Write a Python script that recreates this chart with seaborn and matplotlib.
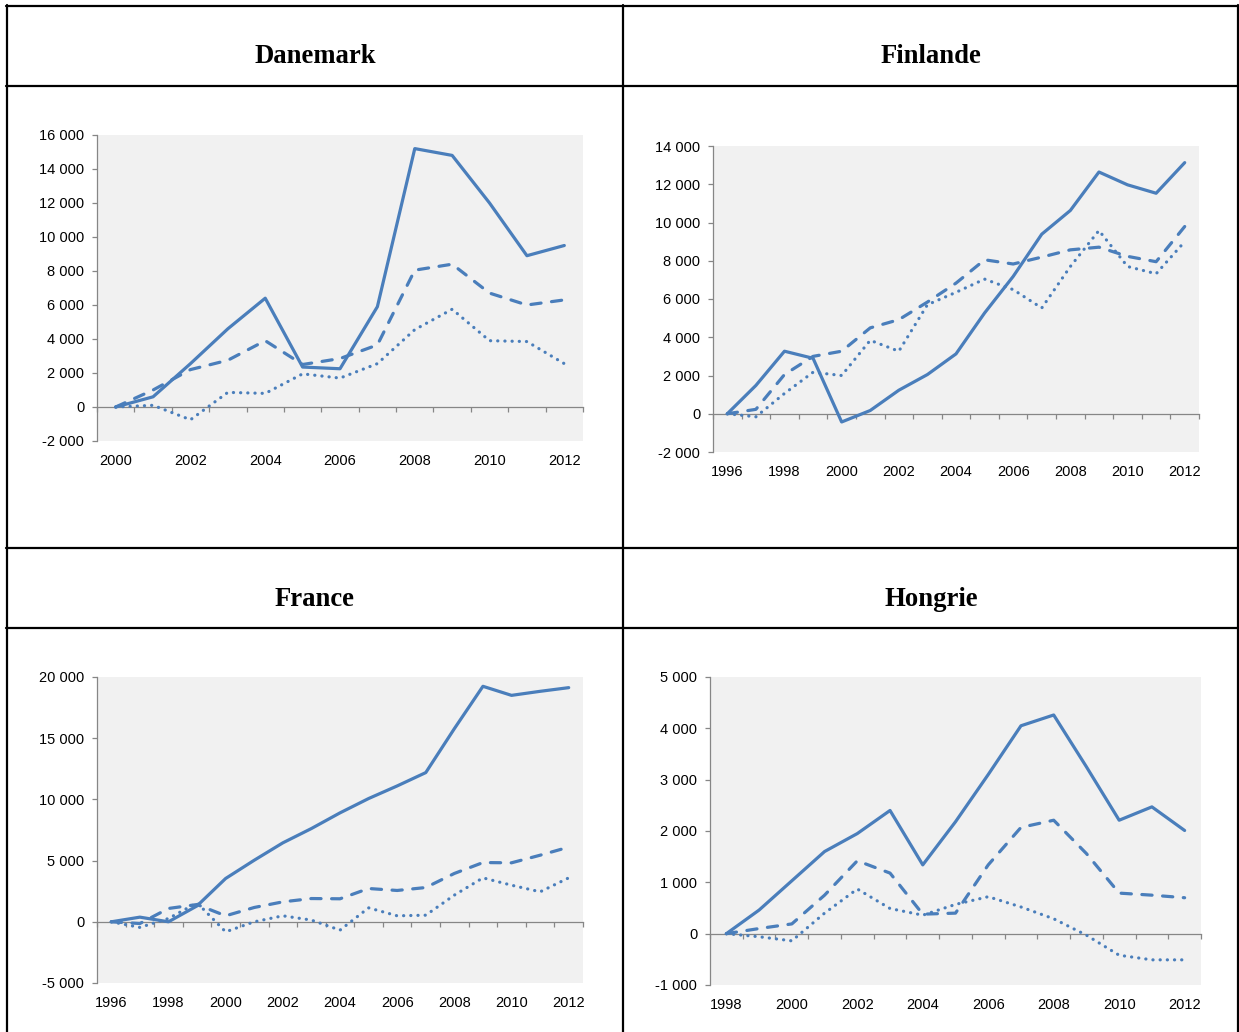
import matplotlib
matplotlib.use("Agg")
import matplotlib.pyplot as plt
from matplotlib.lines import Line2D
from matplotlib.ticker import FuncFormatter, FixedLocator
import seaborn as sns
import pandas as pd

# ---------------- data ----------------
titles = ["Danemark", "Finlande", "France", "Hongrie"]
series_names = ["Série 1", "Série 2", "Série 3"]

dk_years = list(range(2000, 2013))
dk_solid = [0, 600, 2550, 4600, 6400, 2350, 2250, 5900, 15200, 14800, 12000, 8900, 9500]
dk_dash = [0, 1000, 2200, 2750, 3900, 2500, 2850, 3650, 8050, 8400, 6700, 6000, 6300]
dk_dot = [0, 100, -750, 860, 800, 1950, 1700, 2550, 4550, 5750, 3900, 3850, 2550]

fi_years = list(range(1996, 2013))
fi_solid = [0, 1480, 3270, 2900, -430, 170, 1230, 2050, 3130, 5270, 7180, 9390, 10630, 12640, 11970, 11530, 13130]
fi_dash = [0, 230, 2050, 3000, 3270, 4490, 4920, 5840, 6830, 8050, 7830, 8190, 8570, 8710, 8230, 7950, 9790]
fi_dot = [0, -160, 1060, 2170, 2000, 3840, 3270, 5700, 6350, 7040, 6490, 5530, 7700, 9580, 7700, 7320, 9000]

fr_years = list(range(1996, 2013))
fr_solid = [0, 380, 0, 1300, 3540, 5030, 6450, 7620, 8900, 10070, 11100, 12190, 15780, 19240, 18500, 18830, 19130]
fr_dash = [0, -140, 1090, 1410, 490, 1170, 1630, 1900, 1880, 2720, 2560, 2800, 3950, 4840, 4820, 5440, 6100]
fr_dot = [0, -460, 270, 1550, -820, 0, 490, 140, -680, 1140, 490, 540, 2180, 3590, 2990, 2450, 3590]

hu_years = list(range(1998, 2013))
hu_solid = [0, 460, 1030, 1600, 1950, 2400, 1340, 2180, 3100, 4050, 4260, 3250, 2210, 2470, 2010]
hu_dash = [0, 100, 190, 750, 1420, 1180, 380, 400, 1340, 2070, 2210, 1560, 790, 750, 700]
hu_dot = [0, -60, -140, 400, 870, 490, 360, 570, 720, 520, 290, -30, -420, -510, -510]

dk_yticks = list(range(-2000, 16001, 2000))
fi_yticks = list(range(-2000, 14001, 2000))
fr_yticks = list(range(-5000, 20001, 5000))
hu_yticks = list(range(-1000, 5001, 1000))

# ---------------- style ----------------
sns.set_theme(style="white")
plt.rcParams['font.family'] = ['Liberation Sans', 'DejaVu Sans']

W, H = 1239, 1032
fig = plt.figure(figsize=(W / 100, H / 100), dpi=100)
fig.patch.set_facecolor("white")

LINE_COLOR = "#4A7EBB"
AXIS_COLOR = "#868686"
BG = "#F1F1F1"
TICK_FS = 10.5

dash_map = {series_names[0]: "", series_names[1]: (3.2, 3.3), series_names[2]: (0.05, 2.2)}


def fmt(v, pos):
    s = f"{abs(int(round(v))):,}".replace(",", " ")
    return ("-" if v < 0 else "") + s


def make_panel(box, years, solid, dash, dot, yticks):
    l, t, r, b = box
    ax = fig.add_axes([l / W, 1 - b / H, (r - l) / W, (b - t) / H])
    df = pd.DataFrame({
        "year": years * 3,
        "value": solid + dash + dot,
        "serie": [series_names[0]] * len(years) + [series_names[1]] * len(years) + [series_names[2]] * len(years),
    })
    sns.lineplot(data=df, x="year", y="value", style="serie", dashes=dash_map,
                 style_order=series_names, color=LINE_COLOR, linewidth=2.3,
                 legend=False, ax=ax, errorbar=None)
    for ln in ax.lines:
        ln.set_dash_capstyle("round")
        ln.set_solid_joinstyle("round")
        ln.set_dash_joinstyle("round")
    ax.set_facecolor(BG)
    ax.set_xlim(years[0] - 0.5, years[-1] + 0.5)
    ax.set_ylim(yticks[0], yticks[-1])
    ax.set_xlabel("")
    ax.set_ylabel("")
    for s in ["top", "right"]:
        ax.spines[s].set_visible(False)
    ax.spines["left"].set_color(AXIS_COLOR)
    ax.spines["left"].set_linewidth(0.9)
    ax.spines["bottom"].set_color(AXIS_COLOR)
    ax.spines["bottom"].set_linewidth(0.9)
    ax.spines["bottom"].set_position(("data", 0))
    ax.spines["left"].set_zorder(1)
    ax.spines["bottom"].set_zorder(1)

    ax.yaxis.set_major_locator(FixedLocator(yticks))
    ax.yaxis.set_major_formatter(FuncFormatter(fmt))
    ax.tick_params(axis="y", direction="out", length=3.6, width=0.9, color=AXIS_COLOR,
                   left=True, labelsize=TICK_FS, labelcolor="black", pad=5.5)

    bounds = [y - 0.5 for y in years] + [years[-1] + 0.5]
    ax.xaxis.set_major_locator(FixedLocator(bounds))
    ax.tick_params(axis="x", direction="out", length=3.6, width=0.9, color=AXIS_COLOR,
                   bottom=True, labelbottom=False)

    sec = ax.secondary_xaxis(0.0)
    sec.spines["bottom"].set_visible(False)
    sec.set_xticks([y for y in years if y % 2 == 0])
    sec.set_xticklabels([str(y) for y in years if y % 2 == 0])
    sec.tick_params(axis="x", length=0, labelsize=TICK_FS, labelcolor="black", pad=9.5)
    ax.grid(False)
    return ax


make_panel((97, 135, 583, 441), dk_years, dk_solid, dk_dash, dk_dot, dk_yticks)
make_panel((713, 146, 1199, 452), fi_years, fi_solid, fi_dash, fi_dot, fi_yticks)
make_panel((97, 677, 583, 983), fr_years, fr_solid, fr_dash, fr_dot, fr_yticks)
make_panel((710, 677, 1201, 985), hu_years, hu_solid, hu_dash, hu_dot, hu_yticks)

# ---------------- table frame ----------------
def hline(y, x0, x1):
    fig.add_artist(Line2D([x0 / W, x1 / W], [1 - y / H, 1 - y / H], color="black", lw=1.6))


def vline(x, y0, y1):
    fig.add_artist(Line2D([x / W, x / W], [1 - y0 / H, 1 - y1 / H], color="black", lw=1.6))


for y in [6, 86, 548, 628]:
    hline(y, 6, 1239)
for x in [7, 623, 1238]:
    vline(x, 5, 1032)

title_pos = [(315, 63), (931, 63), (315, 606), (931, 606)]
for t, (x, y) in zip(titles, title_pos):
    fig.text(x / W, 1 - y / H, t, ha="center", va="baseline", color="black",
             fontsize=19.2, fontweight="bold", family=["Liberation Serif", "DejaVu Serif"])

fig.savefig("out.png", dpi=100)
